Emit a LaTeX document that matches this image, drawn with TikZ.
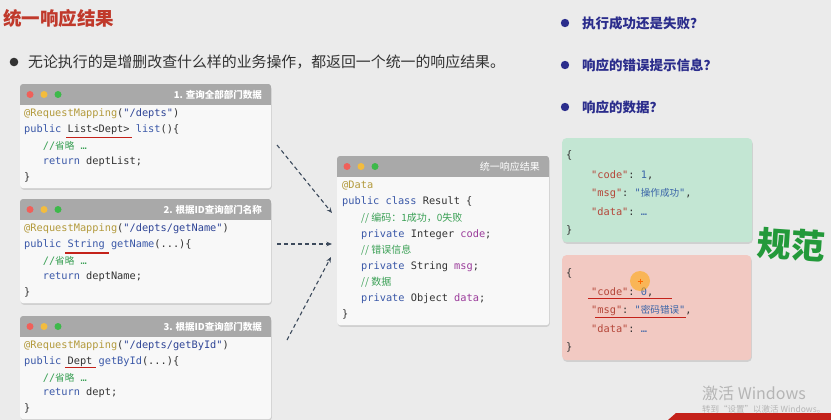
\documentclass[tikz,border=0pt]{standalone}
\usepackage{fontspec}
\setmainfont{Noto Sans CJK SC}
\setmonofont{DejaVu Sans Mono}
\newfontfamily\cjk{Noto Sans CJK SC}
\usetikzlibrary{arrows.meta,shadows}
\definecolor{bgcol}{HTML}{EBEBEB}
\definecolor{titlered}{HTML}{C0392B}
\definecolor{bodytx}{HTML}{333333}
\definecolor{hdrcol}{HTML}{A9A9A9}
\definecolor{bodycol}{HTML}{F8F8F8}
\definecolor{dotred}{HTML}{F0605A}
\definecolor{dotyel}{HTML}{F3BC3E}
\definecolor{dotgrn}{HTML}{3DB94A}
\definecolor{annot}{HTML}{B39A3C}
\definecolor{kw}{HTML}{3A58A8}
\definecolor{strc}{HTML}{2E4496}
\definecolor{com}{HTML}{3AA055}
\definecolor{fld}{HTML}{9B3C9B}
\definecolor{codetx}{HTML}{333333}
\definecolor{arrowcol}{HTML}{3C4A5C}
\definecolor{ulred}{HTML}{C4221A}
\definecolor{handblue}{HTML}{2B2D8C}
\definecolor{okgreen}{HTML}{C3E6D3}
\definecolor{errred}{HTML}{F2C9C2}
\definecolor{jkey}{HTML}{B5473A}
\definecolor{jval}{HTML}{3A64A8}
\definecolor{guifan}{HTML}{23993A}
\definecolor{wmgrey}{HTML}{B5B5B5}
\newcommand\cA[1]{\textcolor{annot}{#1}}
\newcommand\cK[1]{\textcolor{kw}{#1}}
\newcommand\cS[1]{\textcolor{strc}{#1}}
\newcommand\cC[1]{\textcolor{com}{#1}}
\newcommand\cF[1]{\textcolor{fld}{#1}}
\newcommand\jK[1]{\textcolor{jkey}{#1}}
\newcommand\jV[1]{\textcolor{jval}{#1}}
\newcommand\zh[1]{{\cjk\fontsize{9.6}{11}\selectfont #1}}
\tikzset{
  code/.style={anchor=west, inner sep=0pt, font=\fontsize{10.3}{12}\ttfamily, text=codetx},
  hdrtitle/.style={anchor=east, inner sep=0pt, font=\fontsize{9.5}{11}\cjk\bfseries, text=white},
  boxbody/.style={anchor=north west, fill=bodycol, rounded corners=3pt, inner sep=0pt,
    drop shadow={opacity=0.25, shadow xshift=0.6pt, shadow yshift=-1.6pt}},
  jsonbox/.style={anchor=north west, rounded corners=4pt, inner sep=0pt,
    drop shadow={opacity=0.25, shadow xshift=0.6pt, shadow yshift=-1.6pt}},
  dasharrow/.style={draw=arrowcol, line width=1.1pt, dash pattern=on 4pt off 3pt,
    -{Stealth[length=5.5pt,width=4.5pt]}},
  uline/.style={draw=ulred, line width=1.6pt},
  handq/.style={anchor=west, inner sep=0pt, font=\fontsize{13.5}{15}\cjk\bfseries, text=handblue},
}
\newcommand\macdots[1]{%
  \fill[dotred] ([xshift=10pt,yshift=-10.5pt]#1.north west) circle (3.5pt);
  \fill[dotyel] ([xshift=24pt,yshift=-10.5pt]#1.north west) circle (3.5pt);
  \fill[dotgrn] ([xshift=38pt,yshift=-10.5pt]#1.north west) circle (3.5pt);
}
\newcommand\hdrbar[1]{%
  \begin{scope}
    \clip[rounded corners=3pt] (#1.south west) rectangle (#1.north east);
    \fill[hdrcol] (#1.north west) rectangle ([yshift=-21pt]#1.north east);
  \end{scope}
}
\begin{document}
\begin{tikzpicture}[x=1pt,y=-1pt]
\fill[bgcol] (0,0) rectangle (831,420);
\useasboundingbox (0,0) rectangle (831,420);

% title and intro
\node[anchor=west, inner sep=0pt, font=\fontsize{18.5}{21}\cjk\bfseries, text=titlered] (title) at (3,18) {统一响应结果};
\fill[bodytx] (14,62) circle (4.3pt);
\node[anchor=west, inner sep=0pt, font=\fontsize{14.9}{17}\cjk, text=bodytx] (intro) at (28,62) {无论执行的是增删改查什么样的业务操作，都返回一个统一的响应结果。};

% code box 1
\node[boxbody, minimum width=251pt, minimum height=104pt] (box1) at (20,84) {};
\hdrbar{box1}
\macdots{box1}
\node[hdrtitle] (h1) at (262,95) {1. 查询全部部门数据};
\node[code] (b1a) at (24,114) {\cA{@RequestMapping}(\cS{"/depts"})};
\node[code] (b1b) at (24,130) {\cK{public} List<Dept> \cK{list}()\{};
\node[code] (b1c) at (42.6,146) {\cC{//\zh{省略} …}};
\node[code] (b1d) at (42.6,162) {\cK{return} deptList;};
\node[code] (b1e) at (24,177) {\}};
\draw[uline] (66,137.5) -- (132,137.5);

% code box 2
\node[boxbody, minimum width=251pt, minimum height=104pt] (box2) at (20,199) {};
\hdrbar{box2}
\macdots{box2}
\node[hdrtitle] (h2) at (262,210) {2. 根据ID查询部门名称};
\node[code] (b2a) at (24,229) {\cA{@RequestMapping}(\cS{"/depts/getName"})};
\node[code] (b2b) at (24,245) {\cK{public} \cK{String} \cK{getName}(...)\{};
\node[code] (b2c) at (42.6,261) {\cC{//\zh{省略} …}};
\node[code] (b2d) at (42.6,277) {\cK{return} deptName;};
\node[code] (b2e) at (24,292) {\}};
\draw[uline] (65,253) -- (109,253);

% code box 3
\node[boxbody, minimum width=251pt, minimum height=103pt] (box3) at (20,316) {};
\hdrbar{box3}
\macdots{box3}
\node[hdrtitle] (h3) at (262,327) {3. 根据ID查询部门数据};
\node[code] (b3a) at (24,346) {\cA{@RequestMapping}(\cS{"/depts/getById"})};
\node[code] (b3b) at (24,362) {\cK{public} Dept \cK{getById}(...)\{};
\node[code] (b3c) at (42.6,378) {\cC{//\zh{省略} …}};
\node[code] (b3d) at (42.6,393) {\cK{return} dept;};
\node[code] (b3e) at (24,408) {\}};
\draw[uline] (65,367.5) -- (96,367.5);

% result box
\node[boxbody, minimum width=212pt, minimum height=169pt] (res) at (337,156) {};
\hdrbar{res}
\macdots{res}
\node[hdrtitle, font=\fontsize{10}{12}\cjk, text=white] (hr) at (540,167) {统一响应结果};
\node[code] (r1) at (342,186) {\cA{@Data}};
\node[code] (r2) at (342,202.1) {\cK{public class} Result \{};
\node[code] (r3) at (361,218.2) {\cC{{\cjk\fontsize{10}{12}\selectfont // 编码：1成功，0失败}}};
\node[code] (r4) at (361,234.3) {\cK{private} Integer \cF{code};};
\node[code] (r5) at (361,250.4) {\cC{{\cjk\fontsize{10}{12}\selectfont // 错误信息}}};
\node[code] (r6) at (361,266.5) {\cK{private} String \cF{msg};};
\node[code] (r7) at (361,282.6) {\cC{{\cjk\fontsize{10}{12}\selectfont // 数据}}};
\node[code] (r8) at (361,298.7) {\cK{private} Object \cF{data};};
\node[code] (r9) at (342,314.8) {\}};

% dashed arrows
\coordinate (s1) at (277,145);
\coordinate (s2) at (277,244);
\coordinate (s3) at (287,340);
\coordinate (t1) at (332,213);
\coordinate (t2) at (332,244);
\coordinate (t3) at (331,257);
\draw[dasharrow] (s1) -- (t1);
\draw[dasharrow] (s2) -- (t2);
\draw[dasharrow] (s3) -- (t3);

% right questions
\fill[handblue] (565,23) circle (4.2pt);
\node[handq] (q1) at (582,23) {执行成功还是失败？};
\fill[handblue] (565,65) circle (4.2pt);
\node[handq] (q2) at (582,65) {响应的错误提示信息？};
\fill[handblue] (565,107) circle (4.2pt);
\node[handq] (q3) at (582,107) {响应的数据？};

% success json
\node[jsonbox, fill=okgreen, minimum width=190pt, minimum height=104pt] (ok) at (562,138) {};
\node[code] (o1) at (566,155) {\{};
\node[code] (o2) at (591,175) {\jK{"code"}: \jV{1},};
\node[code] (o3) at (591,193.5) {\jK{"msg"}: \jV{"\zh{操作成功}"},};
\node[code] (o4) at (591,212) {\jK{"data"}: \jV{…}};
\node[code] (o5) at (566,230) {\}};

% error json
\node[jsonbox, fill=errred, minimum width=189pt, minimum height=105pt] (err) at (562,255) {};
\node[code] (e1) at (566,273) {\{};
\node[code] (e2) at (591,292) {\jK{"code"}: \jV{0},};
\node[code] (e3) at (591,310.5) {\jK{"msg"}: \jV{"\zh{密码错误}"},};
\node[code] (e4) at (591,329) {\jK{"data"}: \jV{…}};
\node[code] (e5) at (566,347) {\}};
\draw[draw=ulred, line width=1.3pt] (588,298.5) -- (672,298.5);
\draw[draw=ulred, line width=1.3pt] (595,317.5) -- (686,317.5);
\fill[orange!70!yellow, opacity=0.55] (640,281) circle (10pt);
\draw[orange!80!red, line width=0.6pt] (637.5,281) -- (642.5,281) (640,278.5) -- (640,283.5);

% guifan
\node[inner sep=0pt, font=\fontsize{34}{35}\cjk\bfseries, text=guifan, rotate=-4] (gf) at (791,245) {规范};

% watermark
\fill[ulred] (668,420) -- (676,413) -- (831,413) -- (831,420) -- cycle;
\node[anchor=west, inner sep=0pt, font=\fontsize{16}{18}\cjk, text=wmgrey] (wm1) at (702,393) {激活 Windows};
\node[anchor=west, inner sep=0pt, font=\fontsize{8.5}{10}\cjk, text=wmgrey] (wm2) at (702,409) {转到“设置”以激活 Windows。};
\end{tikzpicture}
\end{document}
